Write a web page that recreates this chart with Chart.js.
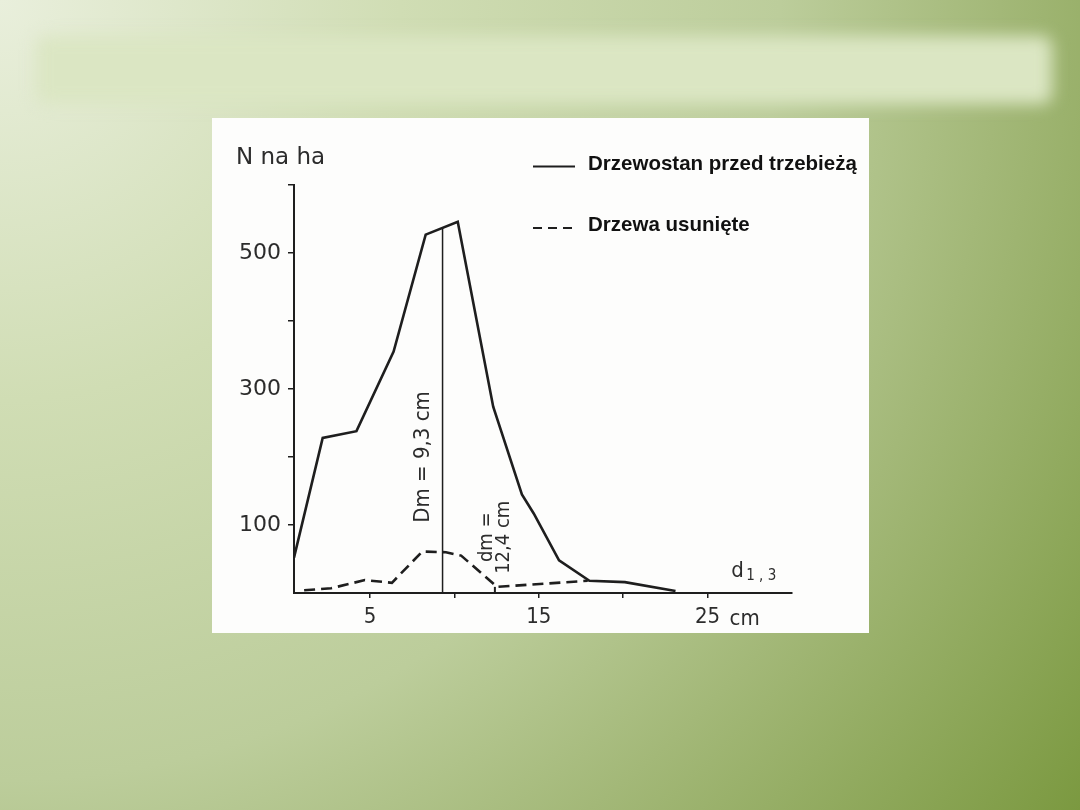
<!DOCTYPE html>
<html>
<head>
<meta charset="utf-8">
<script src="https://cdn.jsdelivr.net/npm/chart.js@4"></script>
<style>
  html, body { margin: 0; padding: 0; }
  body {
    width: 1080px; height: 810px; overflow: hidden; position: relative;
    background: radial-gradient(circle at 0 0, #e9efdc 0px, #d0ddb4 400px, #bccd9b 780px, #a3b878 1000px, #7b9940 1350px);
  }
  .title-bar {
    position: absolute; left: 36px; top: 36px; width: 1016px; height: 68px;
    background: #dbe6c3; filter: blur(8px); border-radius: 10px;
  }
  .panel {
    position: absolute; left: 212px; top: 118px; width: 657px; height: 515px;
    background: #fdfdfc;
  }
</style>
</head>
<body>
<div class="title-bar"></div>
<div class="panel"><canvas id="chart" width="657" height="515"></canvas></div>
<script>
// stand before thinning (solid line)
const diamStand = [0.5, 2.2, 4.2, 6.4, 8.3, 10.2, 12.3, 14.0, 14.7, 16.2, 18.0, 20.1, 23.1];
const nStand = [52, 228, 238, 355, 527, 546, 274, 145, 117, 48, 18, 16, 3];

// removed trees (dashed line)
const diamRemoved = [1.1, 2.7, 4.7, 6.3, 8.1, 9.5, 10.4, 12.3, 12.5, 17.9];
const nRemoved = [4, 7, 19, 15, 61, 60, 55, 14, 9, 18];

// mean diameters
const dmStand = 9.3;
const dmStandTop = 537;
const dmRemoved = 12.4;
const dmRemovedTop = 9;

const xTickValues = [5, 10, 15, 20, 25];
const xTickLabels = ['5', '', '15', '', '25'];
const yTickValues = [100, 200, 300, 400, 500, 600];
const yTickLabels = ['100', '', '300', '', '500', ''];

const seriesNames = ['Drzewostan przed trzebieżą', 'Drzewa usunięte'];

const ink = '#1e1e1e';
const textInk = '#2c2c2c';
const scanFont = '"DejaVu Sans Condensed", "DejaVu Sans", sans-serif';

const toPoints = (xs, ys) => xs.map((x, i) => ({ x: x, y: ys[i] }));

const annotations = {
  id: 'annotations',
  afterDraw(chart) {
    const { ctx, scales: { x, y }, chartArea } = chart;
    ctx.save();
    ctx.fillStyle = textInk;

    // y axis title
    ctx.font = '23px "DejaVu Sans", sans-serif';
    ctx.textAlign = 'left';
    ctx.textBaseline = 'alphabetic';
    ctx.fillText('N na ha', chartArea.left - 58, y.getPixelForValue(600) - 21);

    // "cm" after the 25 tick
    ctx.font = '22px ' + scanFont;
    ctx.fillText('cm', x.getPixelForValue(25) + 22, chartArea.bottom + 32);

    // d1,3
    ctx.font = '22px ' + scanFont;
    ctx.fillText('d', x.getPixelForValue(26.4), y.getPixelForValue(0) - 16);
    ctx.font = '15px ' + scanFont;
    ctx.fillText('1 , 3', x.getPixelForValue(26.4) + 15, y.getPixelForValue(0) - 13);

    // rotated Dm label
    ctx.save();
    ctx.translate(x.getPixelForValue(dmStand) - 14, y.getPixelForValue(200));
    ctx.rotate(-Math.PI / 2);
    ctx.textAlign = 'center';
    ctx.font = '22px ' + scanFont;
    ctx.fillText('Dm = 9,3 cm', 0, 0);
    ctx.restore();

    // rotated dm label, two lines
    ctx.save();
    ctx.translate(x.getPixelForValue(dmRemoved) - 3, y.getPixelForValue(82));
    ctx.rotate(-Math.PI / 2);
    ctx.textAlign = 'center';
    ctx.font = '20px ' + scanFont;
    ctx.fillText('dm =', 0, 0);
    ctx.fillText('12,4 cm', 0, 17);
    ctx.restore();

    // legend
    const legendX = chartArea.left + 239;
    const rows = [48.5, 110];
    ctx.font = 'bold 20.5px "Liberation Sans", Arial, sans-serif';
    seriesNames.forEach((name, i) => {
      const ds = chart.data.datasets[i];
      ctx.strokeStyle = ink;
      ctx.lineWidth = 2;
      ctx.setLineDash(i === 0 ? [] : [9, 6]);
      ctx.beginPath();
      ctx.moveTo(legendX, rows[i]);
      ctx.lineTo(legendX + 42, rows[i]);
      ctx.stroke();
      ctx.setLineDash([]);
      ctx.fillStyle = '#111';
      ctx.fillText(ds.label, legendX + 55, rows[i] + 3);
    });
    ctx.restore();
  }
};

new Chart(document.getElementById('chart'), {
  type: 'line',
  data: {
    datasets: [
      {
        label: seriesNames[0],
        data: toPoints(diamStand, nStand),
        borderColor: ink,
        borderWidth: 2.6,
        pointRadius: 0,
        tension: 0
      },
      {
        label: seriesNames[1],
        data: toPoints(diamRemoved, nRemoved),
        borderColor: ink,
        borderWidth: 2.6,
        borderDash: [11, 6],
        pointRadius: 0,
        tension: 0
      },
      {
        label: 'Dm',
        data: [{ x: dmStand, y: 0 }, { x: dmStand, y: dmStandTop }],
        borderColor: ink,
        borderWidth: 1.5,
        pointRadius: 0
      },
      {
        label: 'dm',
        data: [{ x: dmRemoved, y: 0 }, { x: dmRemoved, y: dmRemovedTop }],
        borderColor: ink,
        borderWidth: 2,
        pointRadius: 0
      }
    ]
  },
  options: {
    responsive: false,
    animation: false,
    layout: { padding: { top: 67, right: 77, left: 0, bottom: 0 } },
    plugins: { legend: { display: false }, tooltip: { enabled: false } },
    scales: {
      x: {
        type: 'linear',
        min: 0.5,
        max: 30,
        afterBuildTicks: (scale) => { scale.ticks = xTickValues.map(v => ({ value: v })); },
        afterFit: (scale) => { scale.height = 40; },
        border: { display: true, color: ink, width: 2 },
        grid: { drawOnChartArea: false, drawTicks: true, tickLength: 5, color: ink, lineWidth: 1.5 },
        ticks: {
          padding: 6,
          maxRotation: 0,
          autoSkip: false,
          color: textInk,
          font: { family: scanFont, size: 22 },
          callback: (value) => xTickLabels[xTickValues.indexOf(value)] ?? ''
        }
      },
      y: {
        min: 0,
        max: 600,
        afterBuildTicks: (scale) => { scale.ticks = yTickValues.map(v => ({ value: v })); },
        afterFit: (scale) => { scale.width = 82; },
        border: { display: true, color: ink, width: 2 },
        grid: { drawOnChartArea: false, drawTicks: true, tickLength: 6, color: ink, lineWidth: 1.5 },
        ticks: {
          padding: 7,
          autoSkip: false,
          color: textInk,
          font: { family: '"DejaVu Sans", sans-serif', size: 22 },
          callback: (value) => yTickLabels[yTickValues.indexOf(value)] ?? ''
        }
      }
    }
  },
  plugins: [annotations]
});
</script>
</body>
</html>
